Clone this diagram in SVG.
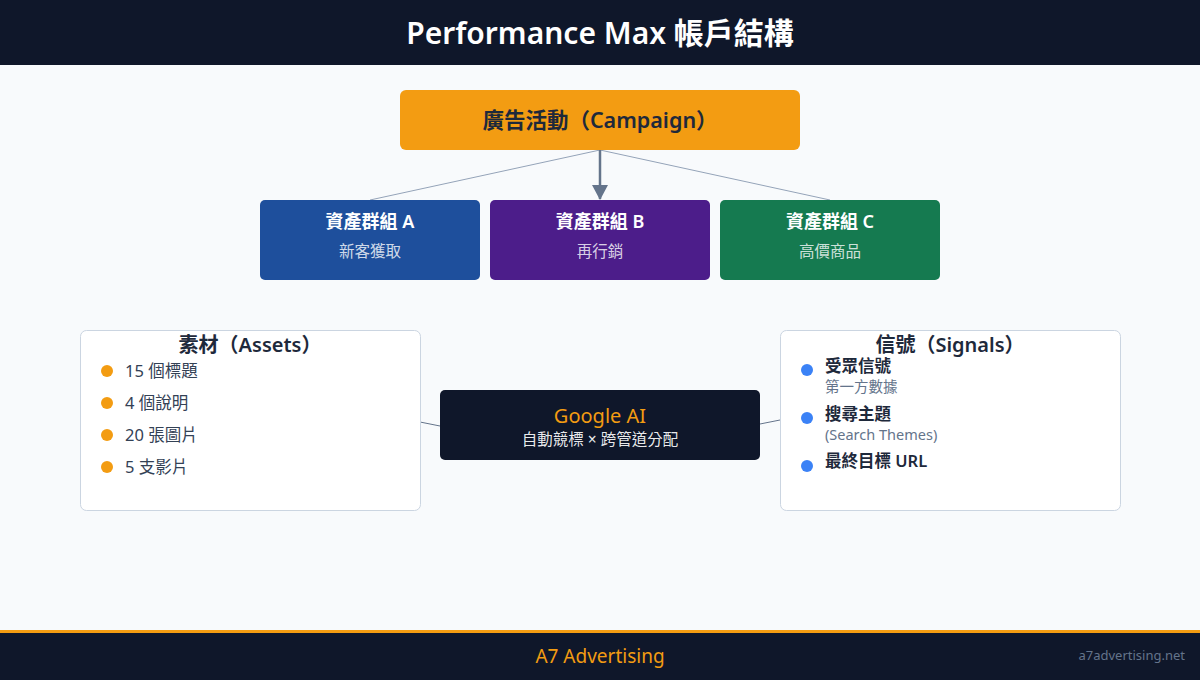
<svg xmlns="http://www.w3.org/2000/svg" width="1200" height="680" viewBox="0 0 1200 680">
<defs>
<style>
text{font-family:"Noto Sans","Noto Sans CJK TC",sans-serif;}
.c{text-anchor:middle;}
.gt{fill:#fff;font-size:18px;font-weight:600;}
.gs{fill:#fff;fill-opacity:0.8;font-size:15.5px;}
.card{fill:#fff;stroke:#cbd5e1;stroke-width:1;}
.ct{fill:#1e293b;font-size:20px;font-weight:600;}
.it{fill:#334155;font-size:16.5px;}
.sb{fill:#1e293b;font-size:16.5px;font-weight:600;}
.ss{fill:#64748b;font-size:14.5px;}
.ln{stroke:#94a3b8;stroke-width:1;fill:none;}
</style>
<marker id="ah" markerWidth="16" markerHeight="16" refX="14" refY="8" orient="auto" markerUnits="userSpaceOnUse">
<path d="M0,0 L15,8 L0,16 z" fill="#64748b"/>
</marker>
</defs>
<rect width="1200" height="680" fill="#f8fafc"/>
<g id="header">
<rect x="0" y="0" width="1200" height="65" fill="#0f172a"/>
<text x="600" y="44" class="c" fill="#fff" font-size="30" font-weight="600">Performance Max 帳戶結構</text>
</g>
<g id="connectors">
<line class="ln" x1="600" y1="150" x2="370" y2="200"/>
<line class="ln" x1="600" y1="150" x2="830" y2="200"/>
<line x1="600" y1="150" x2="600" y2="199" stroke="#64748b" stroke-width="2.5" marker-end="url(#ah)"/>
<line x1="420" y1="422" x2="440" y2="426" stroke="#64748b" stroke-width="1"/>
<line x1="760" y1="424" x2="780" y2="420" stroke="#64748b" stroke-width="1"/>
</g>
<g id="campaign">
<rect x="400" y="90" width="400" height="60" rx="6" fill="#f39c12"/>
<text x="600" y="128" class="c" fill="#1e293b" font-size="21.5" font-weight="600">廣告活動（Campaign）</text>
</g>
<g id="groupA">
<rect x="260" y="200" width="220" height="80" rx="5" fill="#1e4f9c"/>
<text x="370" y="228" class="c gt">資產群組 A</text>
<text x="370" y="257" class="c gs">新客獲取</text>
</g>
<g id="groupB">
<rect x="490" y="200" width="220" height="80" rx="5" fill="#4c1d8a"/>
<text x="600" y="228" class="c gt">資產群組 B</text>
<text x="600" y="257" class="c gs">再行銷</text>
</g>
<g id="groupC">
<rect x="720" y="200" width="220" height="80" rx="5" fill="#157a50"/>
<text x="830" y="228" class="c gt">資產群組 C</text>
<text x="830" y="257" class="c gs">高價商品</text>
</g>
<g id="assets">
<rect class="card" x="80.5" y="330.5" width="340" height="180" rx="6"/>
<text x="250" y="352" class="c ct">素材（Assets）</text>
<circle cx="107" cy="371" r="6" fill="#f39c12"/>
<text x="125" y="377" class="it">15 個標題</text>
<circle cx="107" cy="403" r="6" fill="#f39c12"/>
<text x="125" y="409" class="it">4 個說明</text>
<circle cx="107" cy="435" r="6" fill="#f39c12"/>
<text x="125" y="441" class="it">20 張圖片</text>
<circle cx="107" cy="467" r="6" fill="#f39c12"/>
<text x="125" y="473" class="it">5 支影片</text>
</g>
<g id="googleai">
<rect x="440" y="390" width="320" height="70" rx="5" fill="#0f172a"/>
<text x="600" y="423" class="c" fill="#f39c12" font-size="20">Google AI</text>
<text x="600" y="445" class="c" fill="#fff" fill-opacity="0.92" font-size="15.5">自動競標 × 跨管道分配</text>
</g>
<g id="signals">
<rect class="card" x="780.5" y="330.5" width="340" height="180" rx="6"/>
<text x="950" y="352" class="c ct">信號（Signals）</text>
<circle cx="807" cy="370" r="6" fill="#3b82f6"/>
<text x="825" y="372" class="sb">受眾信號</text>
<text x="825" y="392" class="ss">第一方數據</text>
<circle cx="807" cy="418" r="6" fill="#3b82f6"/>
<text x="825" y="420" class="sb">搜尋主題</text>
<text x="825" y="440" class="ss">(Search Themes)</text>
<circle cx="807" cy="466" r="6" fill="#3b82f6"/>
<text x="825" y="467" class="sb">最終目標 URL</text>
</g>
<g id="footer">
<rect x="0" y="630" width="1200" height="50" fill="#0f172a"/>
<rect x="0" y="630" width="1200" height="3" fill="#f39c12"/>
<text x="600" y="663" class="c" fill="#f39c12" font-size="19">A7 Advertising</text>
<text x="1185" y="660" text-anchor="end" fill="#64748b" font-size="13">a7advertising.net</text>
</g>
</svg>
